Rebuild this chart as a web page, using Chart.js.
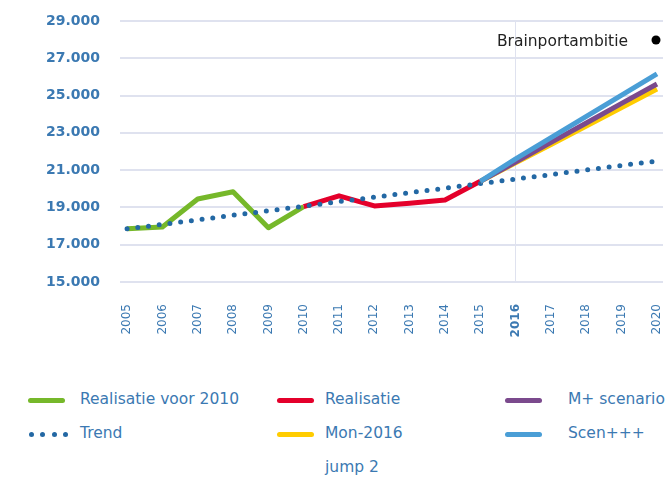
<!DOCTYPE html>
<html>
<head>
<meta charset="utf-8">
<script src="https://cdn.jsdelivr.net/npm/chart.js@4/dist/chart.umd.min.js"></script>
<style>
  html, body { margin:0; padding:0; background:#fff; }
  #wrap { position:relative; width:665px; height:479px; overflow:hidden; }
  #c { position:absolute; left:0; top:0; }
  .lg { position:absolute; font-family:"DejaVu Sans", sans-serif; font-size:15.5px; color:#3b79b2; white-space:nowrap; line-height:18px; }
  .sw { position:absolute; height:5px; border-radius:3px; }
  .dot { position:absolute; width:5px; height:5px; border-radius:50%; }
</style>
</head>
<body>
<div id="wrap">
  <canvas id="c" width="665" height="360"></canvas>
  <div id="legend"></div>
</div>
<script>
// ---- data ----
const years = [2005,2006,2007,2008,2009,2010,2011,2012,2013,2014,2015,2016,2017,2018,2019,2020];
const realisatieVoor2010 = [17850,17950,19450,19840,17910,19040,null,null,null,null,null,null,null,null,null,null];
const realisatie        = [null,null,null,null,null,19040,19620,19080,19220,19400,20400,null,null,null,null,null];
const trend             = [17850,18090,18330,18580,18820,19060,19310,19550,19790,20030,20280,20520,20760,21010,21250,21490];
const mon2016           = [null,null,null,null,null,null,null,null,null,null,20400,21390,22380,23370,24360,25350];
const mPlusScenario     = [null,null,null,null,null,null,null,null,null,null,20400,21440,22490,23530,24580,25620];
const scenPlus          = [null,null,null,null,null,null,null,null,null,null,20400,21600,22740,23880,25020,26160];
const jump2             = [];
const yTicks = [15000,17000,19000,21000,23000,25000,27000,29000];
const seriesNames = ['Realisatie voor 2010','Trend','Realisatie','Mon-2016','jump 2','M+ scenario','Scen+++'];
const markerLabel = 'Brainportambitie';

const C = {
  green:'#76b82a', red:'#e4002b', purple:'#7b4a8d', yellow:'#ffcc00', blue:'#4a9ed6', trend:'#2368a4',
  tick:'#3b79b2', grid:'#dfe2ef'
};
const FONT = '"DejaVu Sans", sans-serif';
const pts = arr => years.map((y,i)=>({x:y, y: (arr[i]===undefined?null:arr[i])}));

const datasets = [
  {label:seriesNames[0], data:pts(realisatieVoor2010), borderColor:C.green, borderWidth:5, order:6, swatch:'line'},
  {label:seriesNames[1], data:pts(trend), borderColor:C.trend, borderWidth:5, borderDash:[0,10.8], borderCapStyle:'round', order:4, swatch:'dots'},
  {label:seriesNames[2], data:pts(realisatie), borderColor:C.red, borderWidth:5, order:5, swatch:'line'},
  {label:seriesNames[3], data:pts(mon2016), borderColor:C.yellow, borderWidth:5, order:3, swatch:'line'},
  {label:seriesNames[4], data:jump2, borderColor:'rgba(0,0,0,0)', borderWidth:0, order:7, swatch:'none'},
  {label:seriesNames[5], data:pts(mPlusScenario), borderColor:C.purple, borderWidth:5, order:2, swatch:'line'},
  {label:seriesNames[6], data:pts(scenPlus), borderColor:C.blue, borderWidth:5, order:1, swatch:'line'}
];
datasets.forEach(d => { d.pointRadius = 0; d.pointHoverRadius = 0; d.fill = false; d.tension = 0; d.spanGaps = false; d.borderJoinStyle = 'round'; });

const markerPlugin = {
  id:'marker',
  afterDraw(chart){
    const ctx = chart.ctx;
    ctx.save();
    ctx.font = '15.5px ' + FONT;
    ctx.fillStyle = '#222';
    ctx.textAlign = 'right';
    ctx.textBaseline = 'middle';
    ctx.fillText(markerLabel, 628, 42);
    ctx.beginPath();
    ctx.arc(656, 40, 4.5, 0, Math.PI*2);
    ctx.fillStyle = '#000';
    ctx.fill();
    ctx.restore();
  }
};

const chart = new Chart(document.getElementById('c'), {
  type:'line',
  data:{ datasets },
  options:{
    responsive:false, animation:false, devicePixelRatio:1,
    layout:{ padding:{ top:21, right:2, left:0, bottom:0 } },
    plugins:{ legend:{display:false}, tooltip:{enabled:false} },
    scales:{
      x:{
        type:'linear', min:2004.8, max:2020.17,
        afterBuildTicks: s => { s.ticks = years.map(v=>({value:v})); },
        afterFit: s => { s.height = 78; s.paddingLeft = 0; s.paddingRight = 0; },
        border:{display:false},
        grid:{ drawTicks:false, lineWidth:1, color: ctx => (ctx.tick && ctx.tick.value===2016) ? C.grid : 'rgba(0,0,0,0)' },
        ticks:{
          autoSkip:false, maxRotation:90, minRotation:90, padding:22, color:C.tick,
          callback: v => String(v),
          font: ctx => ({ family:FONT, size:12, weight: (ctx.tick && ctx.tick.value===2016) ? 'bold' : 'normal' })
        }
      },
      y:{
        min:15000, max:29000,
        afterBuildTicks: s => { s.ticks = yTicks.map(v=>({value:v})); },
        afterFit: s => { s.width = 120; s.paddingTop = 0; s.paddingBottom = 0; },
        border:{display:false},
        grid:{ drawTicks:false, color:C.grid, lineWidth:2 },
        ticks:{
          padding:20, color:C.tick,
          font:{ family:FONT, size:14, weight:'bold' },
          callback: v => v.toLocaleString('nl-NL')
        }
      }
    }
  },
  plugins:[markerPlugin]
});

// ---- HTML legend in three columns ----
const cols = [{sx:28, tx:80},{sx:277, tx:325},{sx:505, tx:568}];
const rows = [400, 434, 468];
const layout = { 'Realisatie voor 2010':[0,0], 'Trend':[0,1], 'Realisatie':[1,0], 'Mon-2016':[1,1], 'jump 2':[1,2], 'M+ scenario':[2,0], 'Scen+++':[2,1] };
const lg = document.getElementById('legend');
chart.data.datasets.forEach(d => {
  const [ci, ri] = layout[d.label];
  const col = cols[ci], y = rows[ri];
  if (d.swatch === 'line') {
    const s = document.createElement('div');
    s.className = 'sw';
    s.style.left = col.sx + 'px'; s.style.top = (y - 2.5) + 'px'; s.style.width = '37px';
    s.style.background = d.borderColor;
    lg.appendChild(s);
  } else if (d.swatch === 'dots') {
    for (let k = 0; k < 4; k++) {
      const s = document.createElement('div');
      s.className = 'dot';
      s.style.left = (col.sx + 1 + k * 11.3) + 'px'; s.style.top = (y - 2.5) + 'px';
      s.style.background = d.borderColor;
      lg.appendChild(s);
    }
  }
  const t = document.createElement('div');
  t.className = 'lg';
  t.textContent = d.label;
  t.style.left = col.tx + 'px'; t.style.top = (y - 10) + 'px';
  lg.appendChild(t);
});
</script>
</body>
</html>
